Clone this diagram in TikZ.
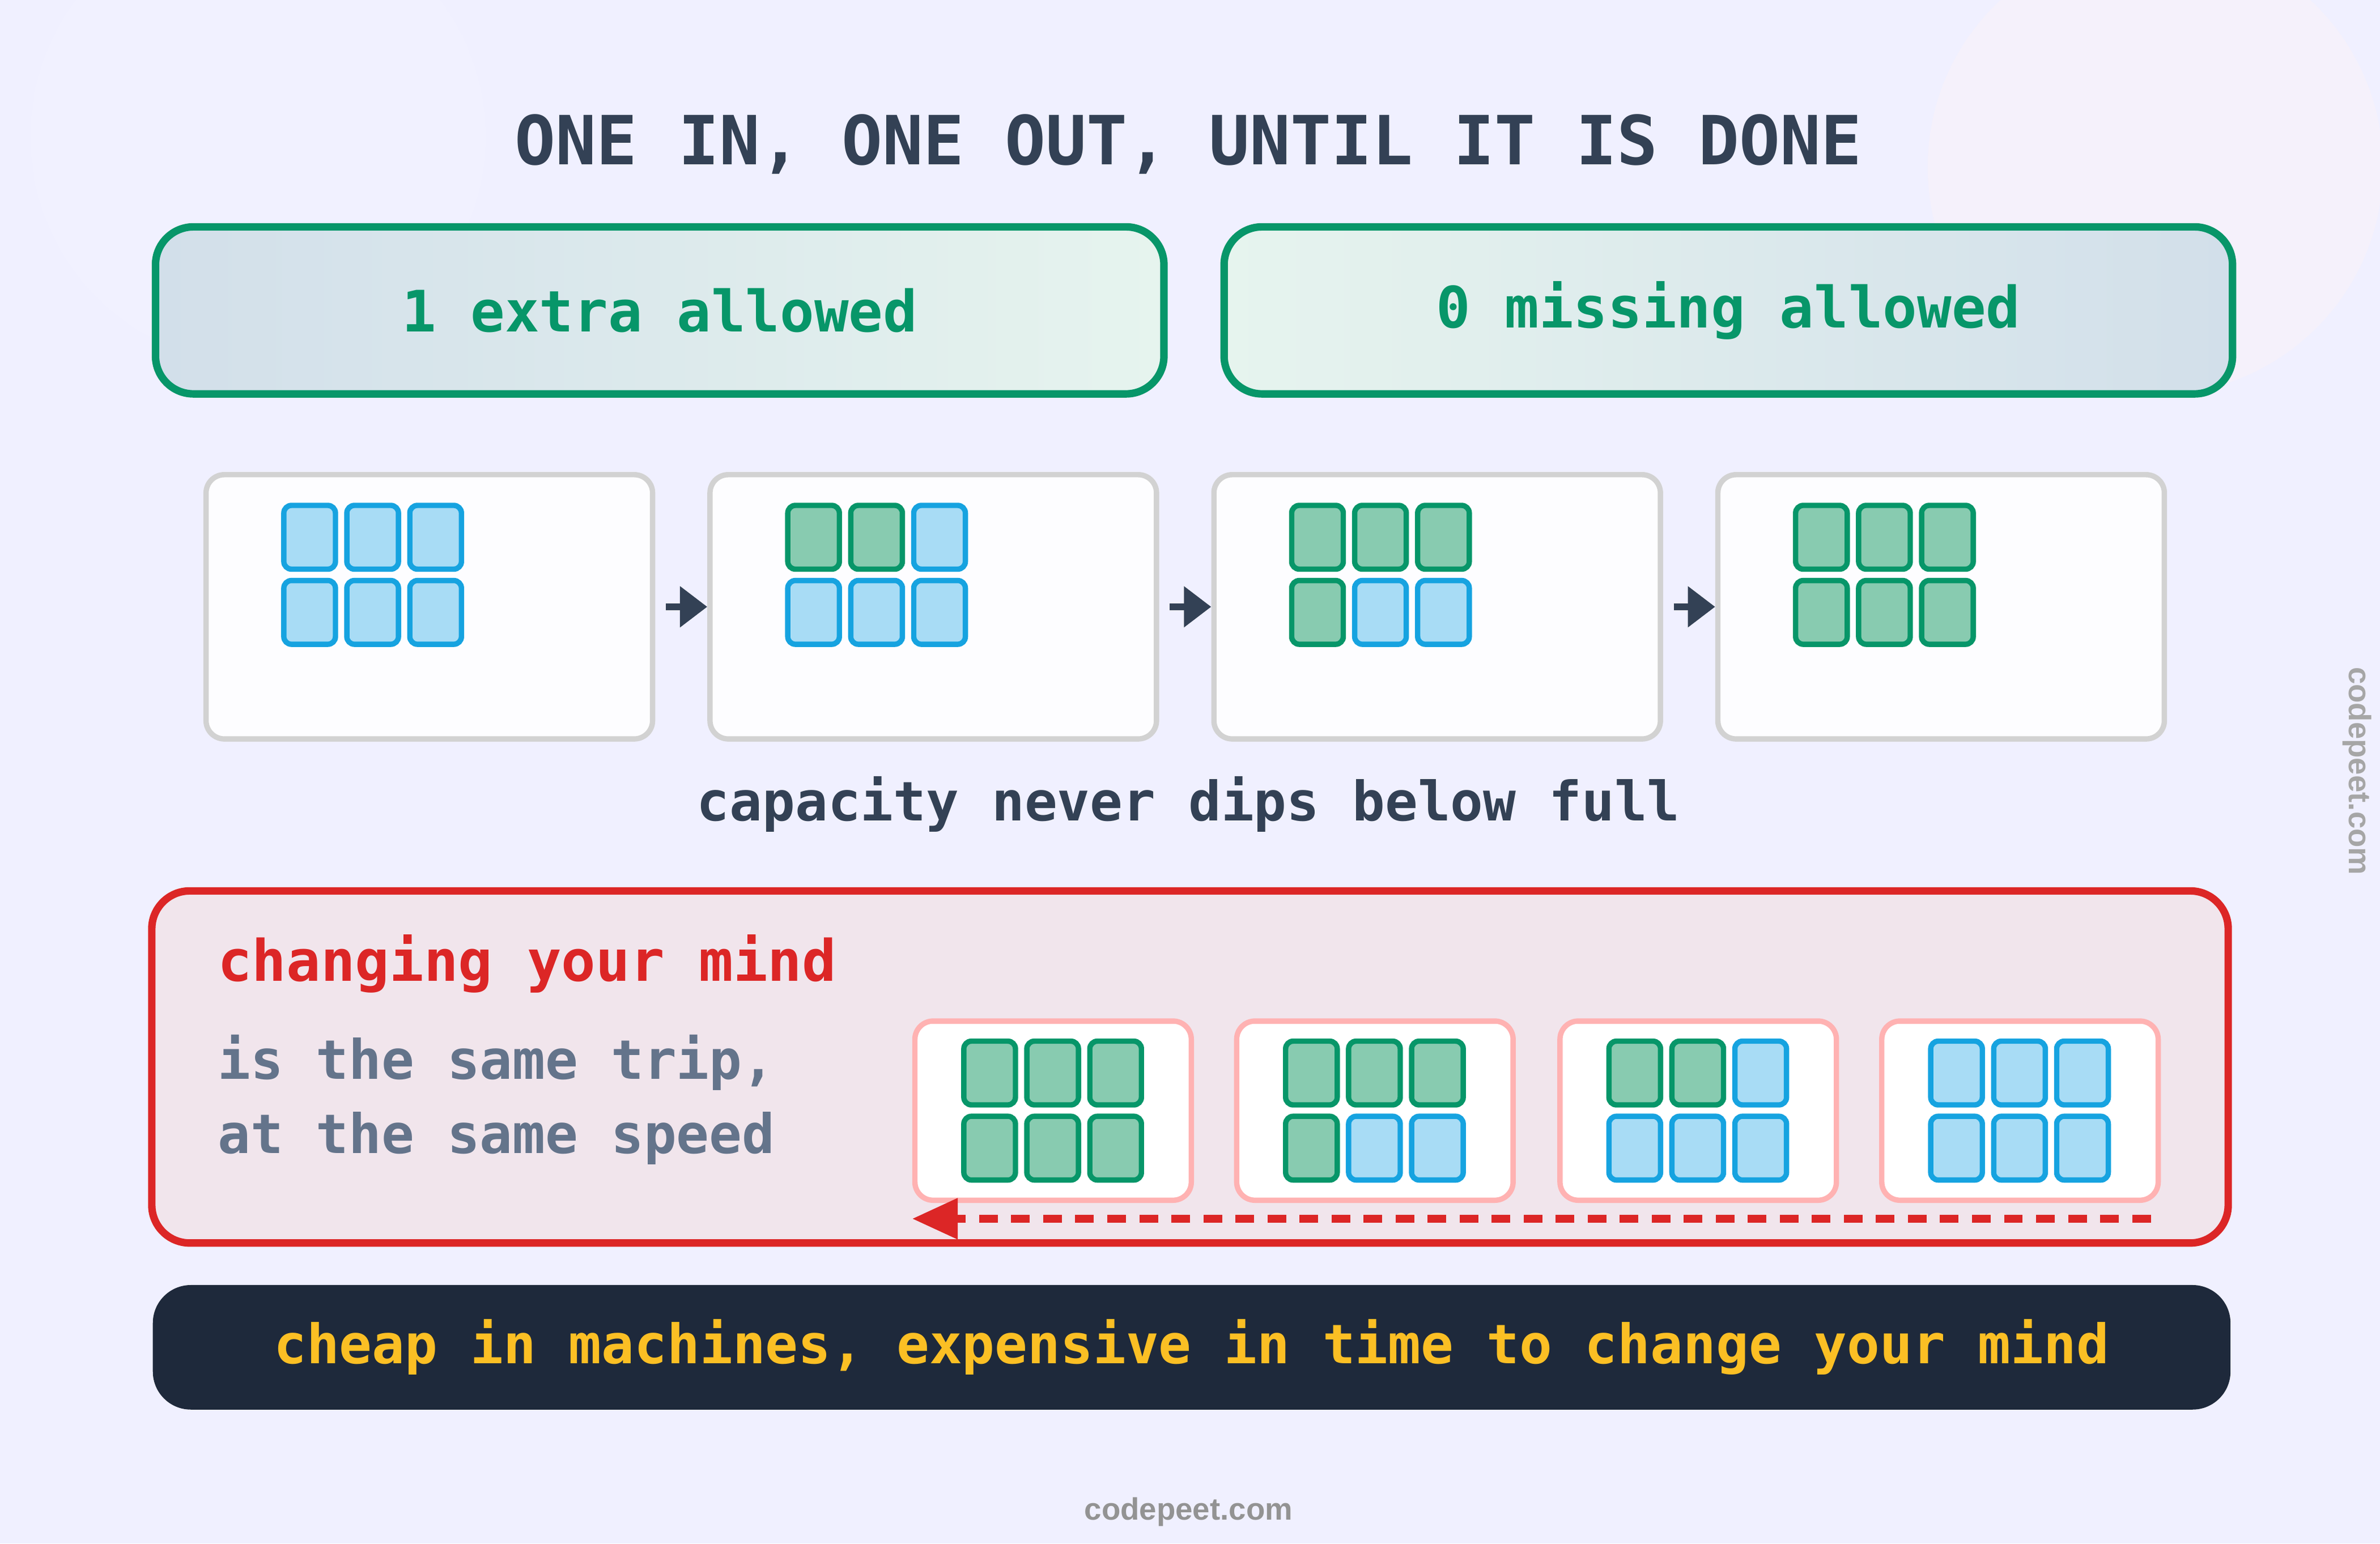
\documentclass[tikz,border=0pt]{standalone}
\usepackage{fontspec}
\setmainfont{Liberation Sans}
\setmonofont{DejaVu Sans Mono}
\usetikzlibrary{positioning,arrows.meta,shapes,calc}
\definecolor{ink}{HTML}{334155}
\definecolor{grn}{HTML}{079669}
\definecolor{grnfill}{HTML}{88CBB0}
\definecolor{blu}{HTML}{16A3E0}
\definecolor{blufill}{HTML}{A8DCF5}
\definecolor{redc}{HTML}{DC2626}
\definecolor{slate}{HTML}{64748B}
\definecolor{navy}{HTML}{1E293B}
\definecolor{gold}{HTML}{FBBF24}
\definecolor{mist}{HTML}{D2DFEA}
\definecolor{mint}{HTML}{E6F4EE}
\definecolor{blush}{HTML}{F1E5EC}
\tikzset{
  title/.style={font=\ttfamily\bfseries\fontsize{12.7}{14}\selectfont, text=ink},
  rule/.style={draw=grn, line width=1.4pt, rounded corners=2.5mm, minimum height=1.1cm, minimum width=6.64cm},
  card/.style={draw=gray!35, line width=1pt, fill=white!80!blue!3, rounded corners=1.2mm, minimum width=2.94cm, minimum height=1.74cm},
  mini/.style={draw=red!30, line width=1pt, fill=white, rounded corners=1.2mm, minimum width=1.82cm, minimum height=1.18cm},
  advance/.style={ink, line width=1.3pt, -{Triangle[length=1.8mm,width=2.6mm]}},
  txt/.style={font=\ttfamily\bfseries\fontsize{10.2}{12}\selectfont}
}
% 2x3 grid of cells, first #3 cells green
\newcommand\cellgrid[3]{%
  \foreach \k in {0,...,5}{%
    \pgfmathtruncatemacro\col{mod(\k,3)}%
    \pgfmathtruncatemacro\row{int(\k/3)}%
    \ifnum\k<#3 \def\cf{grnfill}\def\cd{grn}\else\def\cf{blufill}\def\cd{blu}\fi
    \draw[fill=\cf, draw=\cd, line width=1pt, rounded corners=0.5mm]
      ($(#1,#2)+(\col*41.5,\row*49.5)$) rectangle ++(34,42);
  }%
}
\begin{document}
\begin{tikzpicture}[x=0.01cm,y=-0.01cm]
\useasboundingbox (0,0) rectangle (1568,1017);
\fill[white!94!blue] (0,0) rectangle (1568,1017);
\fill[blue!5, opacity=0.6] (170,90) circle (150);
\fill[violet!5, opacity=0.6] (1420,110) circle (150);

\node[title] (head) at (783,95) {ONE IN, ONE OUT, UNTIL IT IS DONE};

% rules
\node[rule, left color=mist, right color=mint, anchor=north west] (extra) at (100,147) {};
\node[txt, text=grn, font=\ttfamily\bfseries\fontsize{10.7}{12}\selectfont] at (extra) {1 extra allowed};
\node[rule, left color=mint, right color=mist, anchor=north west] (missing) at (804,147) {};
\node[txt, text=grn, font=\ttfamily\bfseries\fontsize{10.7}{12}\selectfont] at (missing) {0 missing allowed};

% forward states
\foreach \i/\x/\g in {1/134/0,2/466/2,3/798/4,4/1130/6}{
  \node[card, anchor=north west] (s\i) at (\x,311) {};
  \cellgrid{\x+53}{333}{\g}
}
\foreach \a/\b in {1/2,2/3,3/4}
  \draw[advance] ([xshift=0.07cm]s\a.east) -- (s\b.west);

\node[txt, text=ink] (cap) at (783,530) {capacity never dips below full};

% changing your mind
\draw[redc, line width=1.4pt, fill=blush, rounded corners=2.5mm] (100,587) rectangle (1468,819);
\node[txt, text=redc, anchor=west, font=\ttfamily\bfseries\fontsize{10.7}{12}\selectfont] (mind) at (131,635) {changing your mind};
\node[txt, text=slate, anchor=west] (trip) at (131,700) {is the same trip,};
\node[txt, text=slate, anchor=west] (speed) at (131,750) {at the same speed};
\foreach \i/\x/\g in {1/601/6,2/813/4,3/1026/2,4/1238/0}{
  \node[mini, anchor=north west] (b\i) at (\x,671) {};
  \cellgrid{\x+34}{686}{\g}
}
\coordinate (back) at (1417,803);
\draw[redc, line width=1.4pt, dash pattern=on 3.5pt off 2.5pt, -{Triangle[length=3mm,width=2.6mm]}] (back) -- (b1.south west |- back);

% bottom bar
\node[fill=navy, rounded corners=2.5mm, minimum width=13.68cm, minimum height=0.82cm, anchor=north west] (bar) at (100,846) {};
\node[txt, text=gold] at (bar) {cheap in machines, expensive in time to change your mind};

\node[text=gray!85, font=\bfseries\fontsize{5.8}{7}\selectfont] (site) at (783,996) {codepeet.com};
\node[text=gray!70, rotate=-90, font=\bfseries\fontsize{5.8}{7}\selectfont] (side) at (1553,508) {codepeet.com};
\end{tikzpicture}
\end{document}
